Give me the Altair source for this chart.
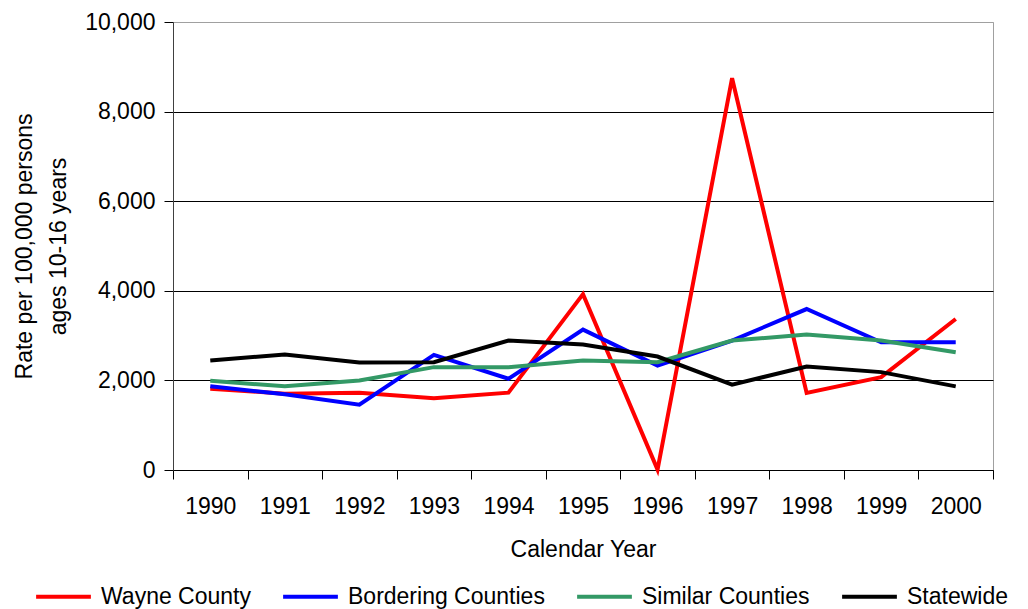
import altair as alt
import pandas as pd

years = ["1990", "1991", "1992", "1993", "1994", "1995", "1996", "1997", "1998", "1999", "2000"]
series_names = ["Wayne County", "Bordering Counties", "Similar Counties", "Statewide"]
wayne = [1815, 1704, 1726, 1600, 1726, 3926, 10, 8745, 1719, 2074, 3370]
bordering = [1867, 1689, 1459, 2570, 2037, 3133, 2333, 2889, 3593, 2852, 2852]
similar = [1993, 1867, 2000, 2296, 2296, 2444, 2407, 2889, 3022, 2889, 2630]
statewide = [2444, 2578, 2400, 2407, 2889, 2800, 2533, 1904, 2311, 2185, 1867]
colors = ["#FF0000", "#0000FF", "#339966", "#000000"]
y_ticks = [0, 2000, 4000, 6000, 8000, 10000]

rows = []
for name, vals in zip(series_names, [wayne, bordering, similar, statewide]):
    for yr, v in zip(years, vals):
        rows.append({"Year": yr, "Rate": v, "Series": name})
df = pd.DataFrame(rows)

FONT = "Liberation Sans"
FS = 23

chart = alt.Chart(df).mark_line(strokeWidth=4).encode(
    x=alt.X("Year:O", sort=years, bandPosition=0.5,
            scale=alt.Scale(type="band", paddingInner=0, paddingOuter=0),
            axis=alt.Axis(title="Calendar Year", labelAngle=0, tickBand="extent",
                          tickSize=9, labelPadding=16, titlePadding=20,
                          domainColor="#000000", tickColor="#000000",
                          labelColor="#000000", titleColor="#000000",
                          labelFontSize=FS, titleFontSize=FS, titleFontWeight="normal",
                          labelFont=FONT, titleFont=FONT)),
    y=alt.Y("Rate:Q", scale=alt.Scale(domain=[0, 10000], nice=False),
            axis=alt.Axis(title=["Rate per 100,000 persons", "ages 10-16 years"],
                          values=y_ticks, format=",d", tickSize=9, labelPadding=9,
                          titlePadding=14, titleLineHeight=34,
                          grid=True,
                          gridColor={"condition": {"test": "datum.value >= 10000", "value": "#A0A0A0"}, "value": "#000000"},
                          gridWidth=1,
                          domainColor="#404040", tickColor="#000000",
                          labelColor="#000000", titleColor="#000000",
                          labelFontSize=FS, titleFontSize=FS, titleFontWeight="normal",
                          labelFont=FONT, titleFont=FONT)),
    color=alt.Color("Series:N", sort=series_names,
                    scale=alt.Scale(domain=series_names, range=colors),
                    legend=alt.Legend(title=None, orient="none", direction="horizontal",
                                      legendX=-139, legendY=545,
                                      symbolType="stroke", symbolSize=3000,
                                      symbolStrokeWidth=4, labelFontSize=FS,
                                      labelFont=FONT, labelColor="#000000",
                                      labelLimit=0,
                                      labelOffset=8, columnPadding=24)),
).properties(
    width=820, height=448,
    padding={"left": 5, "top": 3, "right": 0, "bottom": 0},
).configure_view(
    stroke="#A0A0A0", strokeWidth=1
)

chart.save("out.html", embed_options={"renderer": "svg", "actions": False})
